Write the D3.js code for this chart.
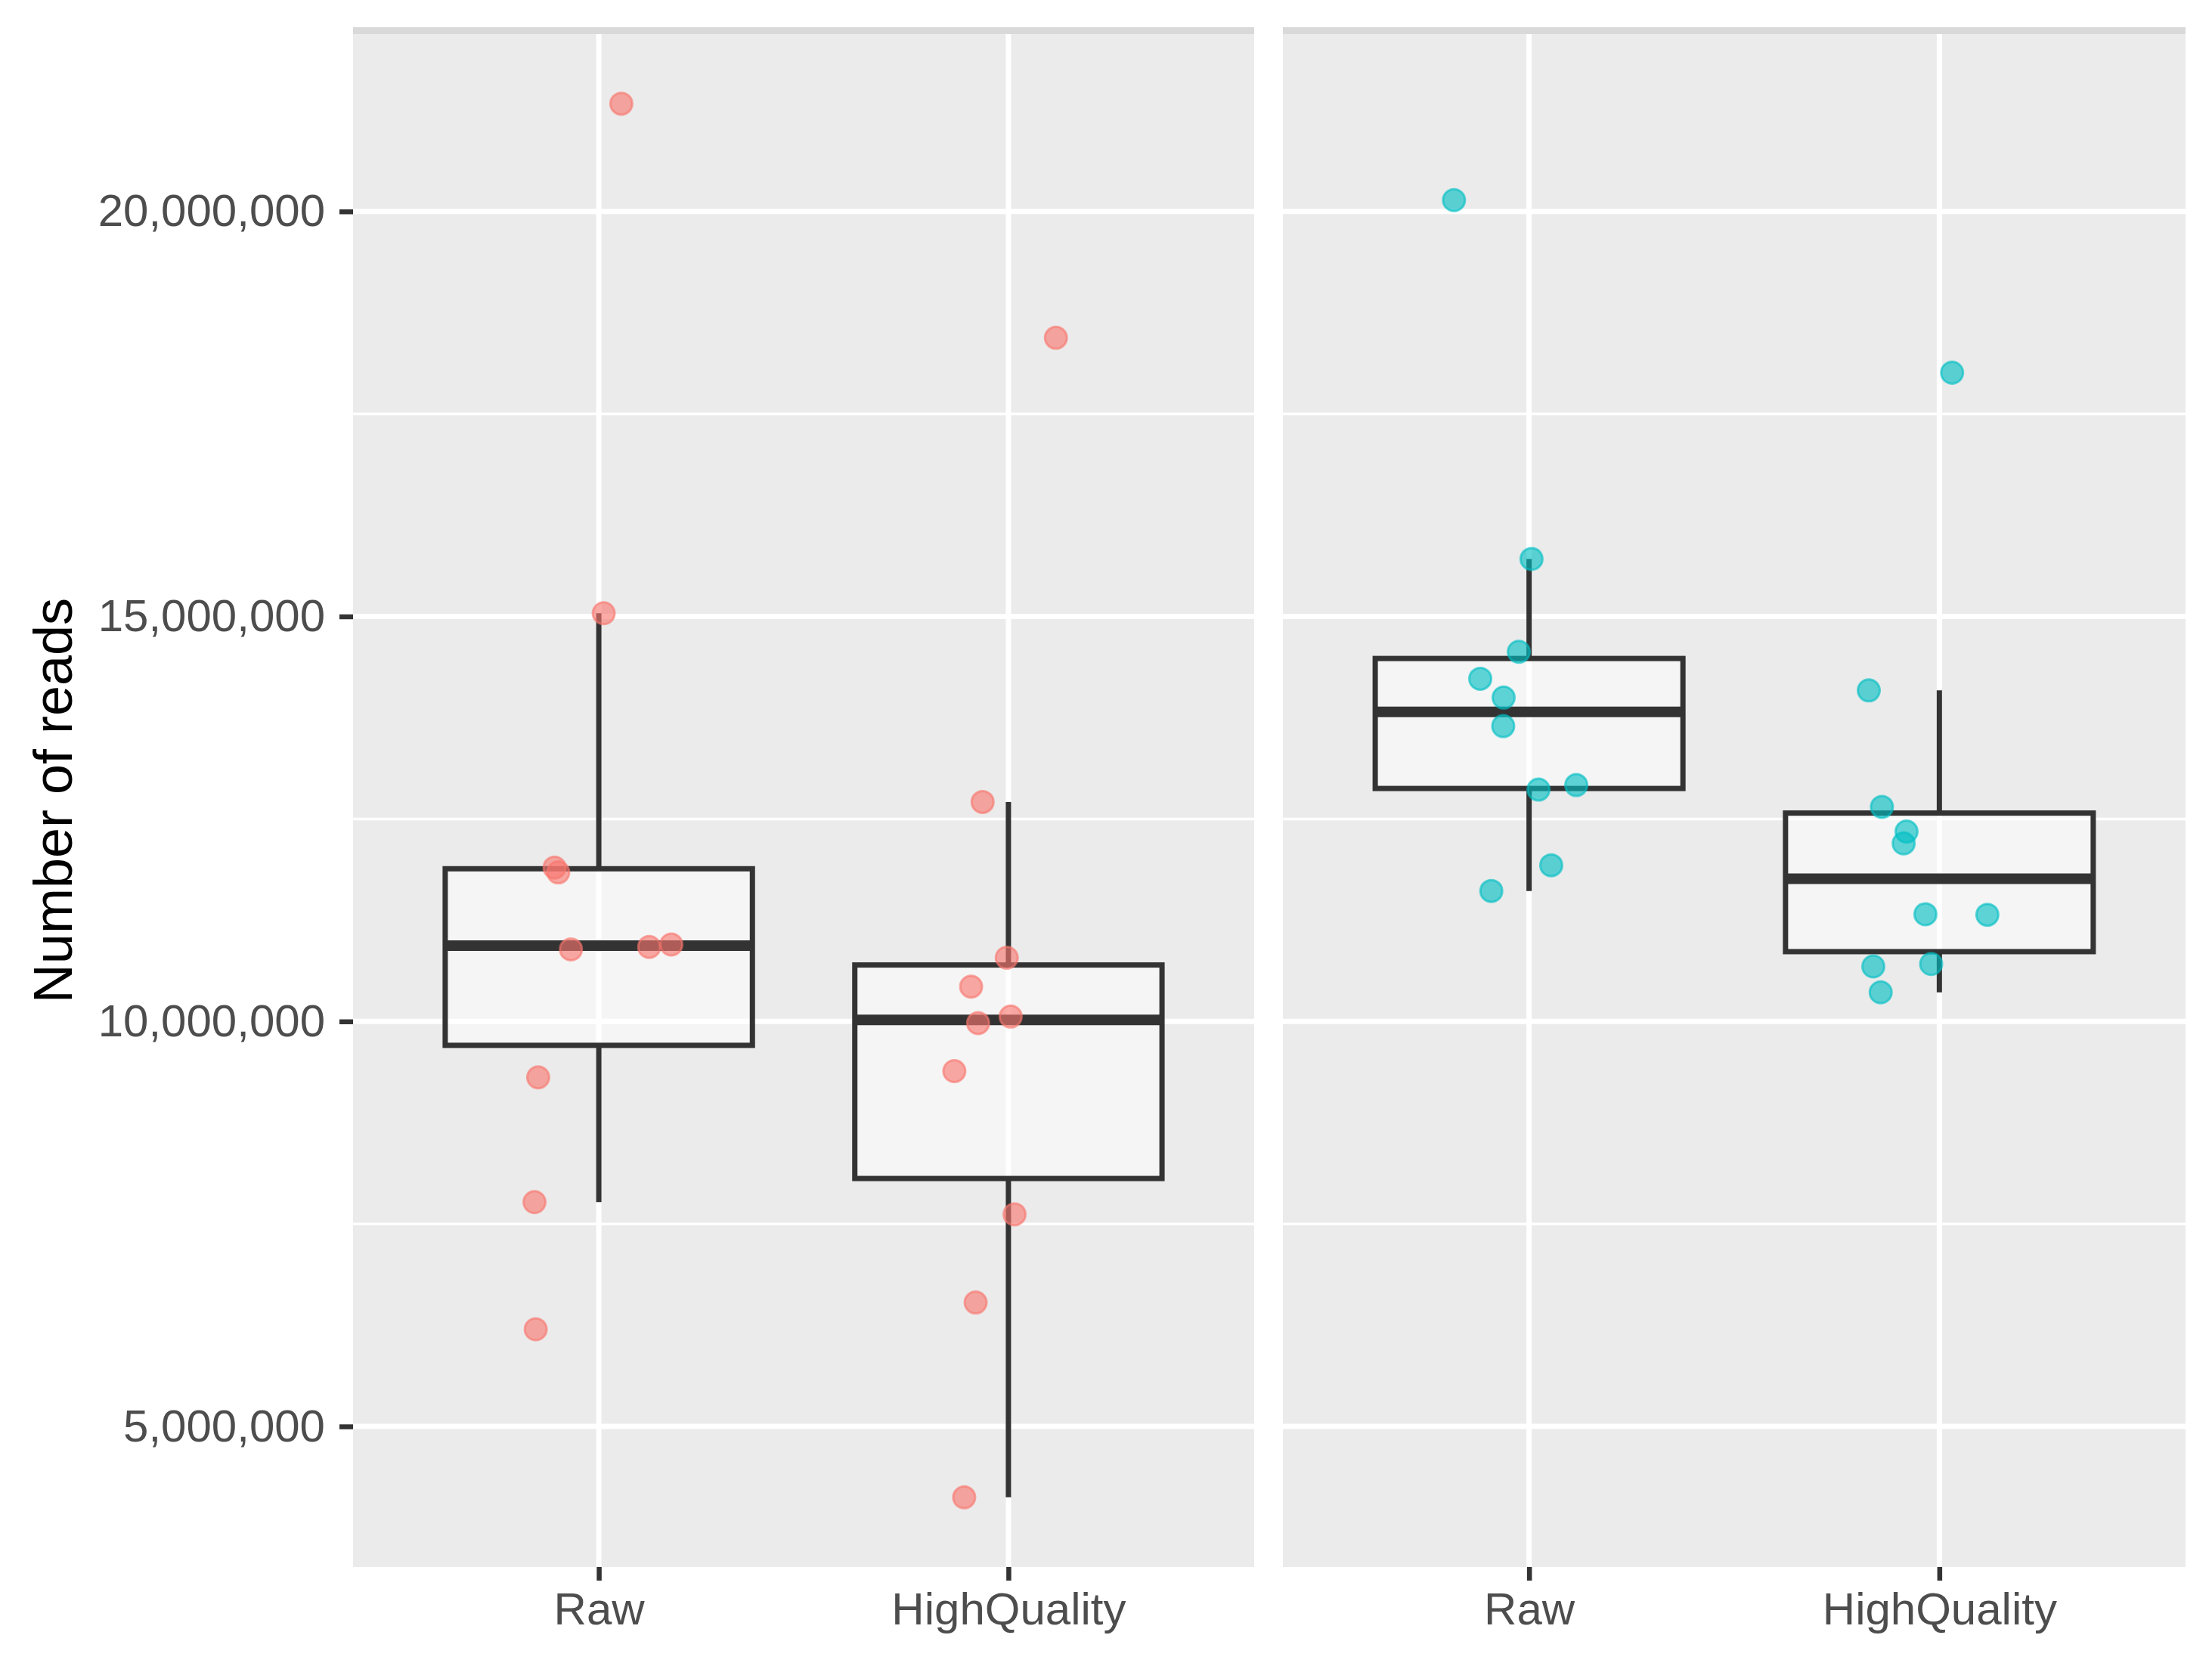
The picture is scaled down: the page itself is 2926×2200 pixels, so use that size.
<!DOCTYPE html>
<html>
<head>
<meta charset="utf-8">
<script src="https://cdn.jsdelivr.net/npm/d3@7"></script>
<style>
  body { margin: 0; background: #fff; }
  svg text { font-family: "Liberation Sans", Arial, Helvetica, sans-serif; }
</style>
</head>
<body>
<div id="chart"></div>
<script>
// categories and tick values
const categories = ["Raw", "HighQuality"];
const yTicks = [5000000, 10000000, 15000000, 20000000];
const facetColors = ["#F8766D", "#00BFC4"];

// number of reads per sample
const leftRaw = [21330000, 15040000, 11900000, 11840000, 10950000, 10920000, 10890000, 9310000, 7770000, 6200000];
const leftHQ = [18440000, 12710000, 10786000, 10430000, 10060000, 9980000, 9387000, 7619000, 6530000, 4125000];
const rightRaw = [20140000, 15710000, 14564000, 14231000, 13998000, 13646000, 12918000, 12862000, 11928000, 11611000];
const rightHQ = [18010000, 14087000, 12649000, 12344000, 12198000, 11324000, 11317000, 10710000, 10679000, 10359000];

// horizontal jitter of each point, in category steps
const leftRawJitter = [0.055, 0.012, -0.108, -0.099, 0.177, 0.123, -0.068, -0.148, -0.157, -0.154];
const leftHQJitter = [0.116, -0.063, -0.004, -0.091, 0.0055, -0.074, -0.132, 0.015, -0.080, -0.108];
const rightRawJitter = [-0.183, 0.006, -0.025, -0.119, -0.062, -0.063, 0.115, 0.023, 0.054, -0.092];
const rightHQJitter = [0.031, -0.172, -0.140, -0.080, -0.087, -0.034, 0.117, -0.020, -0.161, -0.143];

const facets = [
    { color: facetColors[0], groups: [
        { cat: categories[0], values: leftRaw, jitter: leftRawJitter },
        { cat: categories[1], values: leftHQ, jitter: leftHQJitter } ] },
    { color: facetColors[1], groups: [
        { cat: categories[0], values: rightRaw, jitter: rightRawJitter },
        { cat: categories[1], values: rightHQ, jitter: rightHQJitter } ] }
];

const width = 2926, height = 2200;
const panelTop = 45, panelBottom = 2073, stripH = 9;
const panels = [{ x0: 467, x1: 1659 }, { x0: 1697, x1: 2891 }];

const svg = d3.select("#chart").append("svg")
    .attr("width", width)
    .attr("height", height)
    .attr("viewBox", `0 0 ${width} ${height}`);

const allValues = [].concat(leftRaw, leftHQ, rightRaw, rightHQ);
const [vMin, vMax] = d3.extent(allValues);
const pad = (vMax - vMin) * 0.05;

const y = d3.scaleLinear()
    .domain([vMin - pad, vMax + pad])
    .range([panelBottom, panelTop]);

const minorTicks = d3.pairs(yTicks).map(([a, b]) => (a + b) / 2);

function boxStats(values){
    const s = values.slice().sort(d3.ascending);
    const q1 = d3.quantileSorted(s, 0.25);
    const med = d3.quantileSorted(s, 0.5);
    const q3 = d3.quantileSorted(s, 0.75);
    const iqr = q3 - q1;
    const lo = d3.min(s.filter(v => v >= q1 - 1.5 * iqr));
    const hi = d3.max(s.filter(v => v <= q3 + 1.5 * iqr));
    return { q1, med, q3, lo, hi };
}

facets.forEach((facet, fi) => {
    const p = panels[fi];
    const x = d3.scalePoint()
        .domain(categories)
        .range([p.x0, p.x1])
        .padding(0.6);
    const step = x.step();

    const g = svg.append("g").classed("panel", true);

    // background + strip
    g.append("rect")
        .attr("x", p.x0).attr("y", panelTop)
        .attr("width", p.x1 - p.x0).attr("height", panelBottom - panelTop)
        .attr("fill", "#EBEBEB");
    g.append("rect")
        .attr("x", p.x0).attr("y", panelTop - stripH)
        .attr("width", p.x1 - p.x0).attr("height", stripH)
        .attr("fill", "#D9D9D9");

    // grid
    g.append("g").selectAll("line")
        .data(minorTicks.filter(v => v > y.domain()[0] && v < y.domain()[1]))
        .enter().append("line")
            .attr("x1", p.x0).attr("x2", p.x1)
            .attr("y1", d => y(d)).attr("y2", d => y(d))
            .attr("stroke", "#fff").attr("stroke-width", 3.5);
    g.append("g").selectAll("line")
        .data(yTicks)
        .enter().append("line")
            .attr("x1", p.x0).attr("x2", p.x1)
            .attr("y1", d => y(d)).attr("y2", d => y(d))
            .attr("stroke", "#fff").attr("stroke-width", 7);
    g.append("g").selectAll("line")
        .data(categories)
        .enter().append("line")
            .attr("x1", d => x(d)).attr("x2", d => x(d))
            .attr("y1", panelTop).attr("y2", panelBottom)
            .attr("stroke", "#fff").attr("stroke-width", 7);

    // boxplots
    const boxW = step * 0.75;
    facet.groups.forEach(grp => {
        const st = boxStats(grp.values);
        const cx = x(grp.cat);
        const bg = g.append("g").classed("box", true);
        bg.append("line")
            .attr("x1", cx).attr("x2", cx)
            .attr("y1", y(st.q3)).attr("y2", y(st.hi))
            .attr("stroke", "#333").attr("stroke-width", 7);
        bg.append("line")
            .attr("x1", cx).attr("x2", cx)
            .attr("y1", y(st.q1)).attr("y2", y(st.lo))
            .attr("stroke", "#333").attr("stroke-width", 7);
        bg.append("rect")
            .attr("x", cx - boxW / 2).attr("width", boxW)
            .attr("y", y(st.q3)).attr("height", y(st.q1) - y(st.q3))
            .attr("fill", "#fff").attr("fill-opacity", 0.5)
            .attr("stroke", "#333").attr("stroke-width", 7);
        bg.append("line")
            .attr("x1", cx - boxW / 2).attr("x2", cx + boxW / 2)
            .attr("y1", y(st.med)).attr("y2", y(st.med))
            .attr("stroke", "#333").attr("stroke-width", 14);
    });

    // jittered points
    facet.groups.forEach(grp => {
        g.append("g").selectAll("circle")
            .data(grp.values)
            .enter().append("circle")
                .attr("cx", (d, i) => x(grp.cat) + grp.jitter[i] * step)
                .attr("cy", d => y(d))
                .attr("r", 14.5)
                .attr("fill", facet.color).attr("fill-opacity", 0.62)
                .attr("stroke", facet.color).attr("stroke-opacity", 0.62)
                .attr("stroke-width", 3);
    });

    // x axis
    const xAxis = g.append("g")
        .attr("transform", `translate(0,${panelBottom})`)
        .call(d3.axisBottom(x).tickSize(18).tickPadding(15));
    xAxis.select(".domain").remove();
    xAxis.selectAll(".tick line").attr("stroke", "#333").attr("stroke-width", 6.5);
    xAxis.selectAll(".tick text")
        .attr("fill", "#4D4D4D")
        .style("font-size", "60px");
});

// y axis
const yAxis = svg.append("g")
    .attr("transform", `translate(${panels[0].x0},0)`)
    .call(d3.axisLeft(y).tickValues(yTicks).tickFormat(d3.format(",")).tickSize(18).tickPadding(19));
yAxis.select(".domain").remove();
yAxis.selectAll(".tick line").attr("stroke", "#333").attr("stroke-width", 6.5);
yAxis.selectAll(".tick text")
    .attr("fill", "#4D4D4D")
    .style("font-size", "60px");

svg.append("text")
    .attr("transform", `translate(95,${(panelTop + panelBottom) / 2}) rotate(-90)`)
    .attr("text-anchor", "middle")
    .attr("fill", "#000")
    .style("font-size", "72px")
    .text("Number of reads");
</script>
</body>
</html>
